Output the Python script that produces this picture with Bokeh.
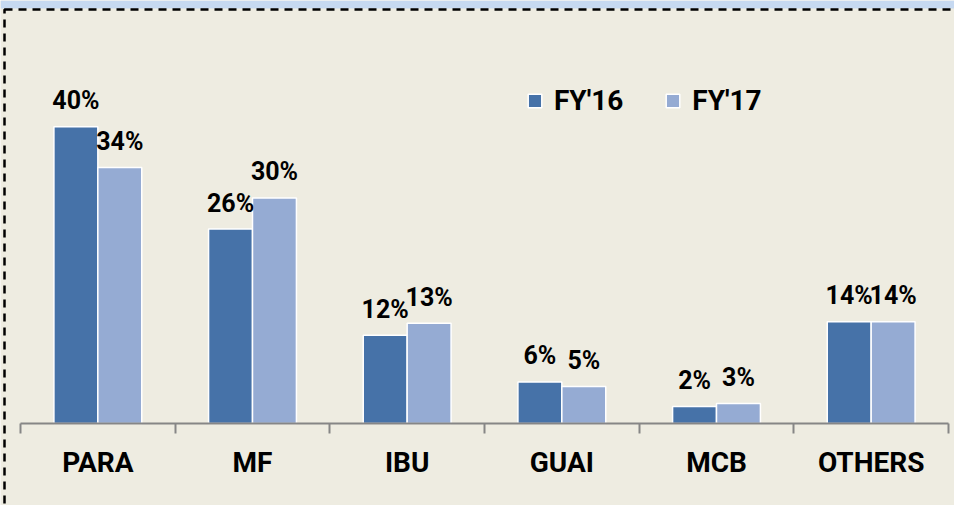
from bokeh.plotting import figure
from bokeh.models import (LinearAxis, FixedTicker, Range1d, ColumnDataSource,
                          Legend, LegendItem, BoxAnnotation)
from bokeh.core.properties import value
from bokeh.embed import file_html
from bokeh.resources import INLINE

# ---------------- data ----------------
categories = ["PARA", "MF", "IBU", "GUAI", "MCB", "OTHERS"]
series_names = ["FY'16", "FY'17"]
fy16 = [40.0, 26.2, 11.9, 5.6, 2.3, 13.7]
fy17 = [34.5, 30.4, 13.5, 5.0, 2.7, 13.7]
fy16_labels = ["40%", "26%", "12%", "6%", "2%", "14%"]
fy17_labels = ["34%", "30%", "13%", "5%", "3%", "14%"]

# ---------------- styles ----------------
BG = "#EEECE1"
BAND = "#C6D9F1"
C16 = "#4672A8"
C17 = "#95ABD3"
FONT = "Roboto"
W, H = 954, 505
PX_LEFT, PX_RIGHT = 20, 6       # space outside the category band
BASE_PX = 423                   # pixel row of the category axis
PX_PER_UNIT = 7.42
UNIT = (W - PX_LEFT - PX_RIGHT) / len(categories)
BAR_W = 0.284
n = len(categories)

centers = [i + 0.5 for i in range(n)]
x16 = [c - BAR_W / 2 for c in centers]
x17 = [c + BAR_W / 2 for c in centers]

src16 = ColumnDataSource(dict(x=x16, top=fy16, lab=fy16_labels))
src17 = ColumnDataSource(dict(x=x17, top=fy17, lab=fy17_labels))

p = figure(width=W, height=H, output_backend="svg", toolbar_location=None,
           x_axis_location=None, y_axis_location=None,
           x_range=Range1d(-PX_LEFT / UNIT, n + PX_RIGHT / UNIT),
           y_range=Range1d(-(H - BASE_PX) / PX_PER_UNIT, BASE_PX / PX_PER_UNIT),
           min_border_left=0, min_border_right=0, min_border_top=0,
           min_border_bottom=0)
p.background_fill_color = BG
p.border_fill_color = BG
p.outline_line_color = None
p.grid.visible = False

r16 = p.vbar(x="x", top="top", width=BAR_W, bottom=0, source=src16,
             fill_color=C16, line_color="white", line_width=1.5)
r17 = p.vbar(x="x", top="top", width=BAR_W, bottom=0, source=src17,
             fill_color=C17, line_color="white", line_width=1.5)

for src in (src16, src17):
    p.text(x="x", y="top", text="lab", source=src, text_align="center",
           text_baseline="alphabetic", y_offset=-26,
           text_font=value(FONT), text_font_style="bold",
           text_font_size="25px", text_color="black")

# x axis with category names centred and ticks on category boundaries
ax = LinearAxis(ticker=FixedTicker(ticks=centers, minor_ticks=list(range(n + 1))),
                fixed_location=0)
ax.major_label_overrides = {c: name for c, name in zip(centers, categories)}
ax.bounds = (0, n)
ax.axis_line_color = "#868686"
ax.axis_line_width = 2
ax.major_tick_line_color = None
ax.major_tick_out = 0
ax.major_tick_in = 0
ax.minor_tick_line_color = "#868686"
ax.minor_tick_line_width = 2
ax.minor_tick_out = 10
ax.minor_tick_in = 0
ax.major_label_standoff = 12
ax.major_label_text_font = FONT
ax.major_label_text_font_style = "bold"
ax.major_label_text_font_size = "28px"
ax.major_label_text_color = "black"
p.add_layout(ax, "below")

legend = Legend(items=[LegendItem(label=series_names[0], renderers=[r16]),
                       LegendItem(label=series_names[1], renderers=[r17])],
                orientation="horizontal", location=(526, 388),
                glyph_width=17, glyph_height=17, label_standoff=11, spacing=41,
                padding=0, margin=0, border_line_color=None,
                background_fill_color=None,
                label_text_font=FONT, label_text_font_style="bold",
                label_text_font_size="28px", label_text_color="black")
p.add_layout(legend, "center")

# light-blue band above the dashed frame
band = BoxAnnotation(left=0, right=W, top=0, bottom=8,
                     left_units="canvas", right_units="canvas",
                     top_units="canvas", bottom_units="canvas",
                     fill_color=BAND, fill_alpha=1, line_color=None)
p.add_layout(band)

# dashed frame on top and left
frame = BoxAnnotation(left=4, right=3000, top=9, bottom=3000,
                      left_units="canvas", right_units="canvas",
                      top_units="canvas", bottom_units="canvas",
                      fill_color=None, fill_alpha=0, line_color="black",
                      line_alpha=1, line_width=2.5, line_dash="8 6")
p.add_layout(frame)

open("out.html", "w").write(file_html(p, INLINE))
